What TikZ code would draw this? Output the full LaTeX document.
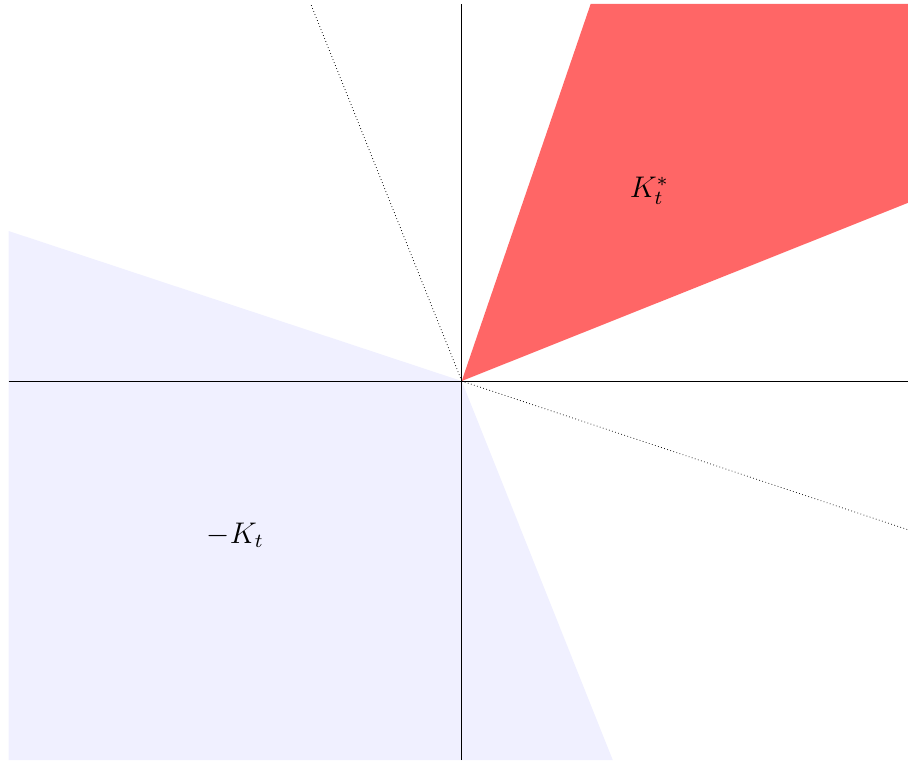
\documentclass[tikz,border=0pt]{standalone}
\usepackage{tikz}
\definecolor{coneR}{RGB}{255,102,102}
\definecolor{coneB}{RGB}{240,240,255}
\tikzset{
  axe/.style={line width=0.4pt, draw=black},
  bord/.style={densely dotted, line width=0.3pt},
  etiq/.style={font=\large},
}
\begin{document}
\begin{tikzpicture}[x=2.12cm, y=2.12cm]
        \useasboundingbox (-3.078,-2.527) rectangle (2.975,2.54);
        \coordinate (O) at (0,0);
        % -K_t et K_t^*
        \fill[coneB] (-3.02,1.0) -- (O) -- (1.007,-2.527) -- (-3.02,-2.527) -- cycle;
        \fill[coneR] (O) -- (0.86,2.515) -- (2.98,2.515) -- (2.98,1.19) -- cycle;
        % bords de K_t
        \coordinate (u) at (-1.007,2.515);
        \coordinate (v) at (2.98,-0.993);
        \draw[bord] (O) -- (u);
        \draw[bord] (O) -- (v);
        % axes
        \draw[axe] (-3.02,0) -- (2.98,0);
        \draw[axe] (0,-2.527) -- (0,2.515);
        \node[etiq] (ks) at (1.25,1.27) {$K_t^*$};
        \node[etiq] (mk) at (-1.51,-1.03) {$-K_t$};
      \end{tikzpicture}
\end{document}
